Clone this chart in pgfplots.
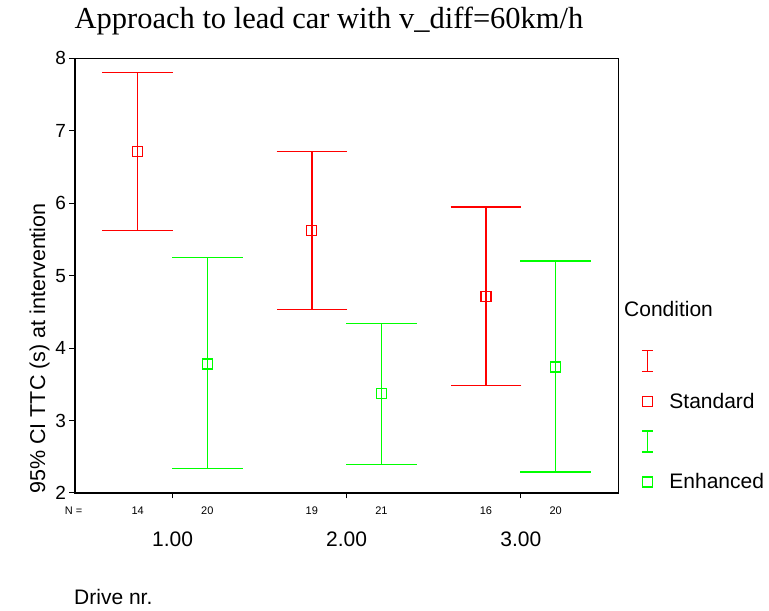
\documentclass[border=0pt]{standalone}
\usepackage{fontspec}
\setmainfont{Liberation Sans}
\newfontfamily\seriffont{Liberation Serif}
\usepackage{pgfplots}
\usepackage{pgfplotstable}
\pgfplotsset{compat=1.18}
\definecolor{sred}{RGB}{255,0,0}
\definecolor{sgreen}{RGB}{0,255,0}

\pgfplotstableread{
x y ep em
0.8 6.71 1.09 1.09
1.8 5.62 1.09 1.09
2.8 4.71 1.24 1.23
}\std
\pgfplotstableread{
x y ep em
1.2 3.78 1.47 1.44
2.2 3.37 0.97 0.98
3.2 3.74 1.46 1.45
}\enh

\newcommand{\bigf}{\fontsize{21bp}{25bp}\selectfont}
\newcommand{\smallf}{\fontsize{11bp}{13bp}\selectfont}

\begin{document}
\begin{tikzpicture}
\useasboundingbox (0,0) rectangle (769bp,611bp);
\begin{axis}[
  at={(75bp,118bp)}, anchor=south west,
  scale only axis, width=543.3bp, height=434.7bp,
  xmin=0.44, xmax=3.56, ymin=2, ymax=8,
  xtick={1,2,3}, xticklabels={1.00,2.00,3.00},
  ytick={2,3,4,5,6,7,8},
  xtick pos=bottom, ytick pos=left,
  tick align=outside, major tick length=5.5bp,
  every tick/.style={black, line width=1bp},
  axis line style={line width=1.3bp},
  /pgf/number format/assume math mode=true,
  xticklabel style={font=\bigf, anchor=base, inner sep=0pt, yshift=-47.5bp},
  yticklabel style={font=\fontsize{19bp}{23bp}\selectfont},
  clip=false,
  legend cell align=left,
  legend style={at={(1.0422,0.35)}, anchor=north west, draw=none, fill=none,
    inner sep=0pt, outer sep=0pt, row sep=0pt, column sep=15.8bp,
    font=\bigf, nodes={minimum height=40.3bp, inner sep=0pt}},
]
\addplot[draw=sred, only marks, mark=square, mark size=5bp, mark options={draw=sred, line width=1.3bp}, forget plot,
  error bars/.cd, y dir=both, y explicit,
  error mark options={rotate=90, draw=sred, line width=1.4bp, mark size=35.3bp},
  error bar style={draw=sred, line width=1.4bp}]
  table[x=x, y=y, y error plus=ep, y error minus=em] {\std};
\addplot[draw=sgreen, only marks, mark=square, mark size=5bp, mark options={draw=sgreen, line width=1.3bp}, forget plot,
  error bars/.cd, y dir=both, y explicit,
  error mark options={rotate=90, draw=sgreen, line width=1.4bp, mark size=35.3bp},
  error bar style={draw=sgreen, line width=1.4bp}]
  table[x=x, y=y, y error plus=ep, y error minus=em] {\enh};

\addlegendimage{legend image code/.code={\draw[draw=sred, line width=1.4bp] (0,-10.5bp)--(0,10.5bp); \draw[draw=sred, line width=1.4bp] (-5.5bp,-10.5bp)--(5.5bp,-10.5bp); \draw[draw=sred, line width=1.4bp] (-5.5bp,10.5bp)--(5.5bp,10.5bp);}}
\addlegendentry{}
\addlegendimage{legend image code/.code={\draw[draw=sred, line width=1.3bp] (-5bp,-5bp) rectangle (5bp,5bp);}}
\addlegendentry{Standard}
\addlegendimage{legend image code/.code={\draw[draw=sgreen, line width=1.4bp] (0,-10.5bp)--(0,10.5bp); \draw[draw=sgreen, line width=1.4bp] (-5.5bp,-10.5bp)--(5.5bp,-10.5bp); \draw[draw=sgreen, line width=1.4bp] (-5.5bp,10.5bp)--(5.5bp,10.5bp);}}
\addlegendentry{}
\addlegendimage{legend image code/.code={\draw[draw=sgreen, line width=1.3bp] (-5bp,-5bp) rectangle (5bp,5bp);}}
\addlegendentry{Enhanced}

\node[font=\smallf] at (axis cs:0.8,2) [yshift=-18bp] {14};
\node[font=\smallf] at (axis cs:1.2,2) [yshift=-18bp] {20};
\node[font=\smallf] at (axis cs:1.8,2) [yshift=-18bp] {19};
\node[font=\smallf] at (axis cs:2.2,2) [yshift=-18bp] {21};
\node[font=\smallf] at (axis cs:2.8,2) [yshift=-18bp] {16};
\node[font=\smallf] at (axis cs:3.2,2) [yshift=-18bp] {20};
\end{axis}
\node[font=\smallf] at (73.5bp,100bp) {N =};
\node[font=\seriffont\fontsize{30.5bp}{36bp}\selectfont, anchor=base, inner sep=0pt] at (329bp,582.4bp) {Approach to lead car with v\_diff=60km/h};
\node[rotate=90, font=\fontsize{21.5bp}{26bp}\selectfont, inner sep=0pt] at (39.5bp,262.5bp) {95\% CI TTC (s) at intervention};
\node[anchor=base west, inner sep=0pt, font=\bigf] at (74bp,6.5bp) {Drive nr.};
\node[anchor=west, inner sep=0pt, font=\bigf] at (624bp,302bp) {Condition};
\end{tikzpicture}
\end{document}
